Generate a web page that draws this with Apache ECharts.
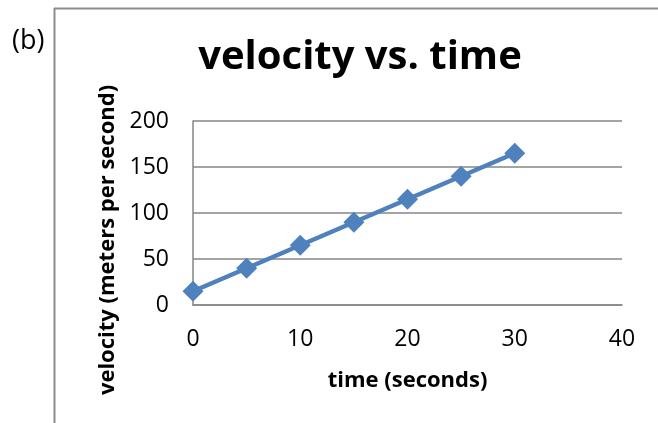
<!DOCTYPE html>
<html>
<head>
<meta charset="utf-8">
<script src="https://cdn.jsdelivr.net/npm/echarts@6/dist/echarts.min.js"></script>
<style>
html,body{margin:0;padding:0;background:#fff;}
#c{width:658px;height:423px;}
</style>
</head>
<body>
<div id="c"></div>
<script>
var timeSeconds = [0, 5, 10, 15, 20, 25, 30];
var velocity = [15, 40, 65, 90, 115, 140, 165];
var xTicks = [0, 10, 20, 30, 40];
var yTicks = [0, 50, 100, 150, 200];

var chart = echarts.init(document.getElementById('c'), null, {renderer: 'canvas'});
var font = '"Open Sans", "Liberation Sans", sans-serif';
chart.setOption({
  animation: false,
  backgroundColor: '#fff',
  title: {
    text: 'velocity vs. time',
    left: 355, top: 33, textAlign: 'center',
    textStyle: {fontFamily: font, fontWeight: 'bold', fontSize: 40, color: '#000'}
  },
  graphic: [
    {type: 'line', shape: {x1: 54, y1: 8.5, x2: 658, y2: 8.5}, style: {stroke: '#8c8c8c', lineWidth: 2}},
    {type: 'line', shape: {x1: 54.5, y1: 8, x2: 54.5, y2: 423}, style: {stroke: '#8c8c8c', lineWidth: 2}},
    {type: 'text', left: 12, top: 28, style: {text: '(b)', fontFamily: font, fontSize: 27, fill: '#000'}}
  ],
  grid: {left: 193, top: 121, width: 429, height: 184, containLabel: false},
  xAxis: {
    type: 'value', min: xTicks[0], max: xTicks[xTicks.length - 1], interval: 10,
    name: 'time (seconds)', nameLocation: 'middle', nameGap: 65,
    nameTextStyle: {fontFamily: font, fontWeight: 'bold', fontSize: 22, color: '#000'},
    axisLine: {show: true, lineStyle: {color: '#868686', width: 1.5}},
    axisTick: {show: false},
    splitLine: {show: false},
    axisLabel: {fontFamily: font, fontSize: 23, color: '#000', margin: 23}
  },
  yAxis: {
    type: 'value', min: yTicks[0], max: yTicks[yTicks.length - 1], interval: 50,
    name: 'velocity (meters per second)', nameLocation: 'middle', nameGap: 74,
    nameTextStyle: {fontFamily: font, fontWeight: 'bold', fontSize: 22, color: '#000', padding: [0, 54, 0, 0]},
    axisLine: {show: true, lineStyle: {color: '#868686', width: 1.5}},
    axisTick: {show: false},
    splitLine: {show: true, lineStyle: {color: '#868686', width: 1.5}},
    axisLabel: {fontFamily: font, fontSize: 23, color: '#000', margin: 24}
  },
  series: [{
    type: 'line',
    data: timeSeconds.map(function (t, i) { return [t, velocity[i]]; }),
    symbol: 'diamond', symbolSize: 21,
    lineStyle: {color: '#4F81BD', width: 4.5},
    itemStyle: {color: '#4F81BD'}
  }]
});
</script>
</body>
</html>
